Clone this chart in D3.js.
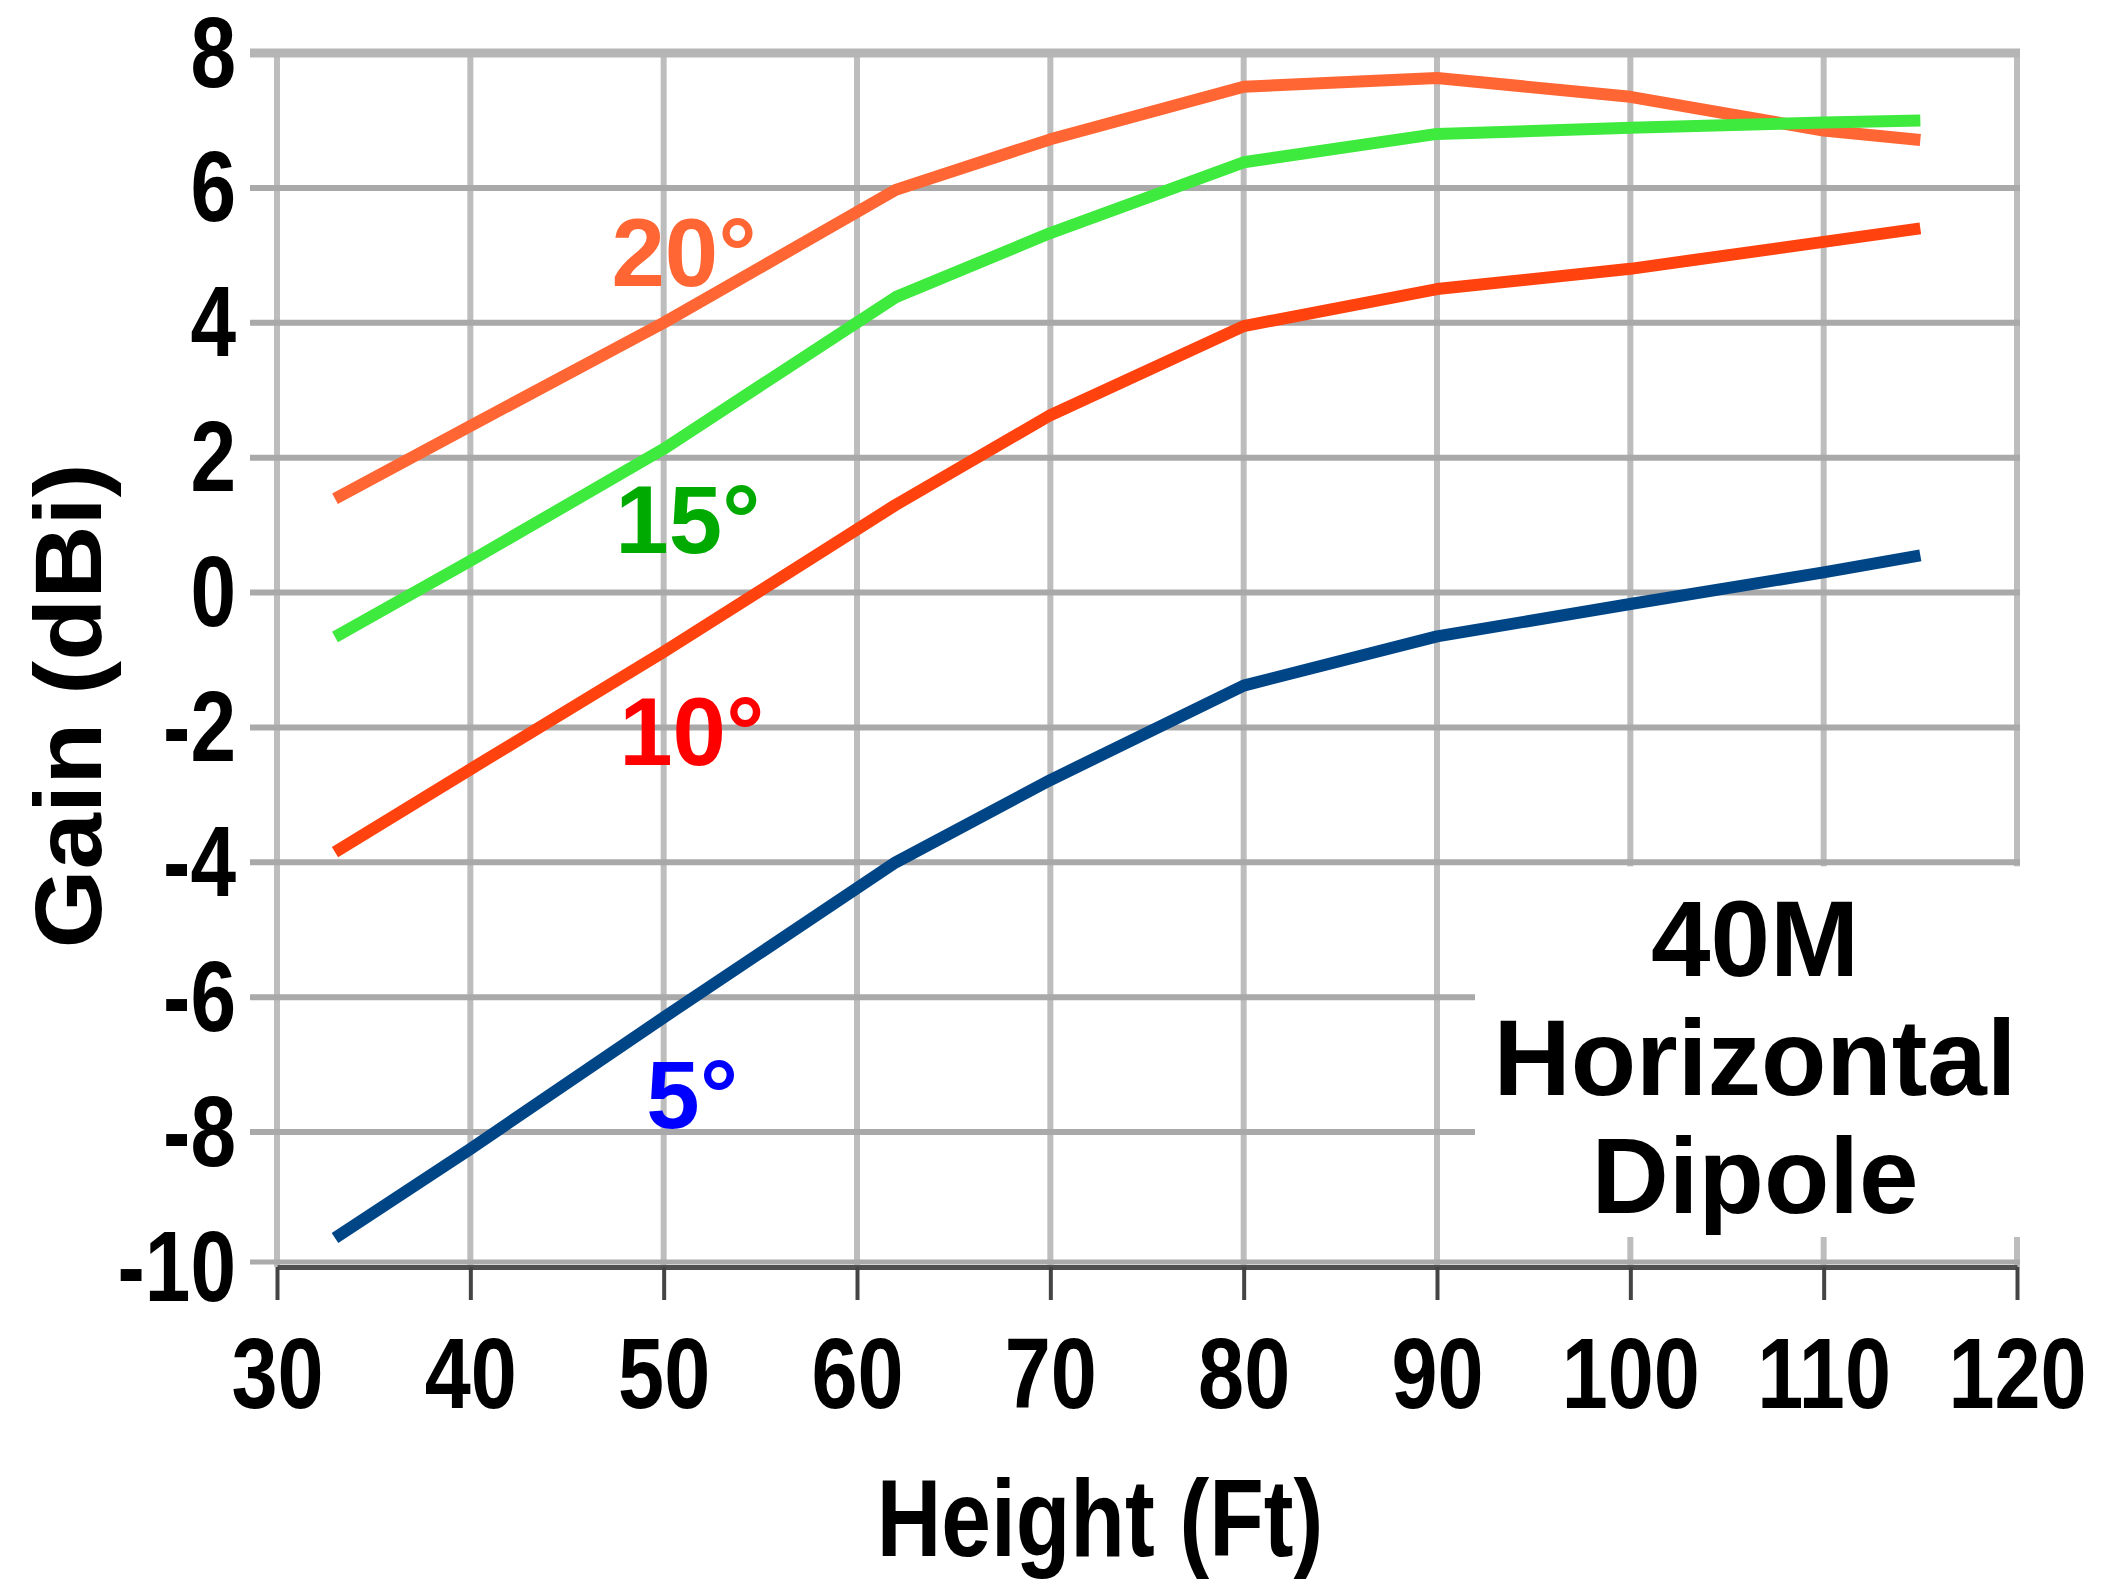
<!DOCTYPE html>
<html><head><meta charset="utf-8">
<script src="https://cdn.jsdelivr.net/npm/d3@7"></script>
<style>html,body{margin:0;padding:0;background:#fff;}svg{display:block;}</style>
</head><body>
<svg id="chart" width="2101" height="1587"></svg>
<script>
// ---- data ----
const heights = [33, 40, 50, 62, 70, 80, 90, 100, 110, 115];
const gain20 = [1.39, 2.47, 4.0, 5.97, 6.72, 7.5, 7.63, 7.35, 6.85, 6.71];
const gain15 = [-0.66, 0.47, 2.13, 4.38, 5.33, 6.38, 6.80, 6.89, 6.97, 7.0];
const gain10 = [-3.85, -2.62, -0.88, 1.3, 2.63, 3.95, 4.5, 4.8, 5.2, 5.4];
const gain5 = [-9.57, -8.25, -6.3, -4.0, -2.78, -1.38, -0.65, -0.17, 0.3, 0.55];
const seriesNames = ["20°", "15°", "10°", "5°"];
const xTicks = [30, 40, 50, 60, 70, 80, 90, 100, 110, 120];
const yTicks = [-10, -8, -6, -4, -2, 0, 2, 4, 6, 8];
const titleLines = ["40M", "Horizontal", "Dipole"];
const xTitle = "Height (Ft)";
const yTitle = "Gain (dBi)";

const FONT = "'Liberation Sans', Arial, Helvetica, sans-serif";
const NARROW = 0.82;
const svg = d3.select("#chart");
const x = d3.scaleLinear().domain([30, 120]).range([277, 2017]);
const y = d3.scaleLinear().domain([-10, 8]).range([1267, 53]);

const series = [
  {name: seriesNames[0], values: gain20, color: "#ff6633", labelColor: "#ff6633", lx: 47.3, ly: 4.55},
  {name: seriesNames[1], values: gain15, color: "#3dea3d", labelColor: "#00aa00", lx: 47.5, ly: 0.59},
  {name: seriesNames[2], values: gain10, color: "#ff420e", labelColor: "#ff0000", lx: 47.7, ly: -2.56},
  {name: seriesNames[3], values: gain5, color: "#004586", labelColor: "#0000ff", lx: 49.1, ly: -7.94}
];

// gridlines
const grid = svg.append("g");
grid.selectAll("line.v").data(xTicks).join("line")
  .attr("x1", d => x(d)).attr("x2", d => x(d))
  .attr("y1", y(8) - 4).attr("y2", y(-10))
  .attr("stroke", "#bdbdbd").attr("stroke-width", 6);
grid.selectAll("line.h").data(yTicks.filter(d => d > -10)).join("line")
  .attr("x1", 250).attr("x2", x(120) + 3)
  .attr("y1", d => y(d)).attr("y2", d => y(d))
  .attr("stroke", d => d === 8 ? "#b5b5b5" : "#a9a9a9")
  .attr("stroke-width", d => d === 8 ? 9 : 6);
grid.append("line").attr("x1", 250).attr("x2", x(120) + 3)
  .attr("y1", y(-10) - 5).attr("y2", y(-10) - 5)
  .attr("stroke", "#aaaaaa").attr("stroke-width", 5);

// annotation box
const boxTop = y(-4) + 4, boxBottom = 1237;
svg.append("rect").attr("x", 1475).attr("y", boxTop)
  .attr("width", 2028 - 1475).attr("height", boxBottom - boxTop).attr("fill", "#fff");

const fmt = d => String(d);

// x axis
const xAxis = svg.append("g").attr("transform", `translate(0,${y(-10)})`)
  .call(d3.axisBottom(x).tickValues(xTicks).tickSize(33).tickSizeOuter(0).tickFormat(fmt));
xAxis.select(".domain").attr("stroke", "#505050").attr("stroke-width", 5);
xAxis.selectAll(".tick line").attr("stroke", "#444").attr("stroke-width", 4);
xAxis.selectAll(".tick text").attr("x", 0).attr("y", 141).attr("dy", 0)
  .attr("transform", `scale(${NARROW},1)`)
  .attr("font-family", FONT).attr("font-weight", "bold").attr("font-size", 101).attr("fill", "#000");

// y axis
const yAxis = svg.append("g").attr("transform", `translate(${x(30)},0)`)
  .call(d3.axisLeft(y).tickValues(yTicks).tickSize(0).tickFormat(fmt));
yAxis.select(".domain").remove();
yAxis.selectAll(".tick text").attr("x", -41 / NARROW).attr("y", 33).attr("dy", 0)
  .attr("transform", `scale(${NARROW},1)`)
  .attr("font-family", FONT).attr("font-weight", "bold").attr("font-size", 100).attr("fill", "#000");

// lines
const line = d3.line().x((d, i) => x(heights[i])).y(d => y(d));
svg.append("g").selectAll("path").data(series).join("path")
  .attr("d", d => line(d.values))
  .attr("fill", "none").attr("stroke", d => d.color)
  .attr("stroke-width", 12).attr("stroke-linejoin", "round").attr("stroke-linecap", "butt");

// series labels
svg.append("g").selectAll("text").data(series).join("text")
  .attr("x", d => x(d.lx)).attr("y", d => y(d.ly))
  .attr("font-family", FONT).attr("font-weight", "bold").attr("font-size", 96)
  .attr("fill", d => d.labelColor).text(d => d.name);

// annotation text
svg.append("g").selectAll("text").data(titleLines).join("text")
  .attr("x", 1755).attr("y", (d, i) => 976 + i * 118.5)
  .attr("text-anchor", "middle")
  .attr("font-family", FONT).attr("font-weight", "bold").attr("font-size", 107)
  .attr("fill", "#000").text(d => d);

// axis titles
svg.append("text").attr("transform", `translate(1100,1556) scale(${NARROW},1)`).attr("text-anchor", "middle")
  .attr("font-family", FONT).attr("font-weight", "bold").attr("font-size", 109)
  .text(xTitle);
svg.append("text").attr("transform", "translate(101,706) rotate(-90) scale(1.08,1)").attr("text-anchor", "middle")
  .attr("font-family", FONT).attr("font-weight", "bold").attr("font-size", 94)
  .text(yTitle);
</script>
</body></html>
